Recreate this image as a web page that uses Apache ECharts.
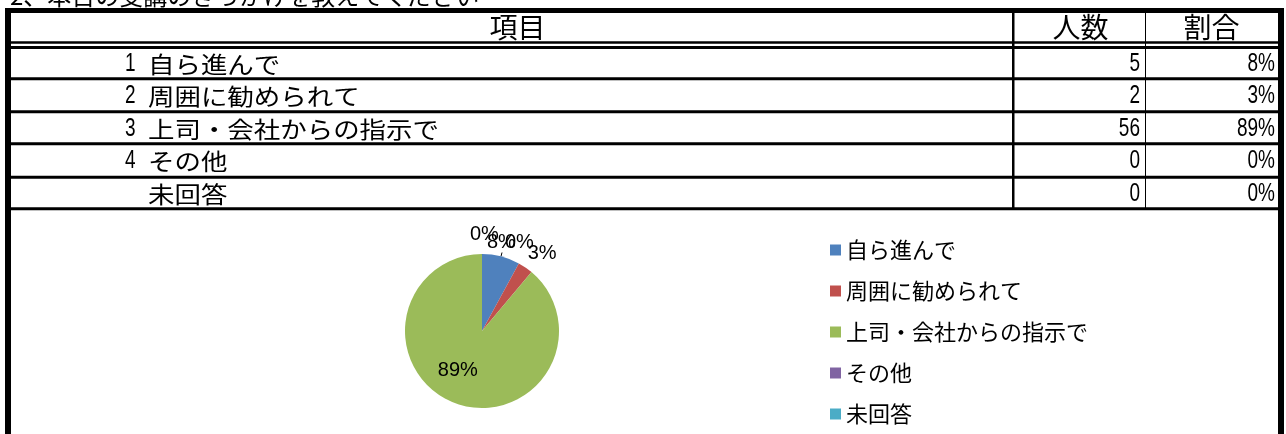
<!DOCTYPE html>
<html>
<head>
<meta charset="utf-8">
<style>
html,body{margin:0;padding:0;background:#fff;}
#c{width:1286px;height:434px;}
</style>
<script src="https://cdn.jsdelivr.net/npm/echarts@6/dist/echarts.min.js"></script>
</head>
<body>
<div id="c"></div>
<script>
// ---- data ----
const titleText = '2、本日の受講のきっかけを教えてください';
const headers = ['項目', '人数', '割合'];
const itemNos = ['1', '2', '3', '4', ''];
const categories = ['自ら進んで', '周囲に勧められて', '上司・会社からの指示で', 'その他', '未回答'];
const counts = [5, 2, 56, 0, 0];
const shares = ['8%', '3%', '89%', '0%', '0%'];
const colors = ['#4F81BD', '#C0504D', '#9BBB59', '#8064A2', '#4BACC6'];

// ---- layout ----
const JP = "'Noto Sans CJK JP', sans-serif";
const NUM = "'Liberation Sans', 'Noto Sans CJK JP', sans-serif";
const X0 = 5, X1 = 1284;
const rowLineTops = [77.3, 110.3, 142.3, 175.7, 207.3];
const rowTops = [49, 80.3, 113.3, 145.3, 178.7];
const colCount = 1012, colShare = 1145;

const g = [];
function rect(x, y, w, h) {
  g.push({type: 'rect', shape: {x, y, width: w, height: h}, style: {fill: '#000'}, silent: true});
}
function text(t, x, y, size, align, fam, sx) {
  g.push({type: 'text', silent: true, x: x, y: y, scaleX: sx || 1, style: {
    text: t, x: 0, y: 0, fill: '#000', font: size + 'px ' + fam,
    align: align, verticalAlign: 'middle', textAlign: align, textVerticalAlign: 'middle'
  }});
}
// title (cut off at top)
text(titleText, 10, -4, 24, 'left', JP, 1.0);
// frame
rect(X0, 8, X1 - X0, 5);
rect(X0, 8, 6, 426);
rect(1278, 8, 6, 426);
// header double line
rect(X0, 41.3, X1 - X0, 2.4);
rect(X0, 46, X1 - X0, 3);
// row lines
rowLineTops.forEach(t => rect(X0, t, X1 - X0, 3));
// column lines
rect(colCount, 13, 2.5, 196);
rect(colShare, 13, 1, 196);
// header texts
text(headers[0], (11 + colCount) / 2 + 6, 27, 28, 'center', JP, 1);
text(headers[1], (colCount + colShare) / 2 + 2, 27, 28, 'center', JP, 1);
text(headers[2], (colShare + 1278) / 2, 27, 28, 'center', JP, 1);
// rows
categories.forEach((c, i) => {
  const cy = (rowTops[i] + rowLineTops[i]) / 2 + 1;
  if (itemNos[i]) text(itemNos[i], 125, cy, 25, 'left', NUM, 0.76);
  text(c, 148, cy, 23, 'left', JP, 1.15);
  text(String(counts[i]), 1140, cy, 25, 'right', NUM, 0.76);
  text(shares[i], 1275, cy, 25, 'right', NUM, 0.76);
});

const labelShift = [[-20, -10], [-5, -11], [-10, 0], [-17, -16], [18, -8]];

const chart = echarts.init(document.getElementById('c'), null, {renderer: 'canvas'});
chart.setOption({
  animation: false,
  backgroundColor: '#fff',
  color: colors,
  legend: {
    orient: 'vertical', left: 830, top: 239, padding: 0,
    itemWidth: 11, itemHeight: 11, itemGap: 19,
    icon: 'rect', selectedMode: false,
    textStyle: {fontFamily: JP, fontSize: 22, lineHeight: 22, color: '#000'},
    data: categories
  },
  series: [{
    type: 'pie',
    center: [482, 331],
    radius: 77,
    startAngle: 90,
    clockwise: true,
    avoidLabelOverlap: false,
    silent: true,
    label: {
      show: true, position: 'outside', color: '#000',
      fontFamily: NUM, fontSize: 20,
      formatter: p => Math.round(p.percent) + '%'
    },
    labelLine: {show: false, length: 4, length2: 0, lineStyle: {color: '#000', width: 1}},
    labelLayout: function (p) {
      const s = labelShift[p.dataIndex];
      return {dx: s[0], dy: s[1], hideOverlap: false, moveOverlap: false};
    },
    data: categories.map((c, i) => ({
      name: c, value: counts[i],
      label: i === 2 ? {position: 'inside'} : undefined,
      labelLine: i === 0 ? {show: true} : undefined
    }))
  }],
  graphic: {elements: g}
});
</script>
</body>
</html>
